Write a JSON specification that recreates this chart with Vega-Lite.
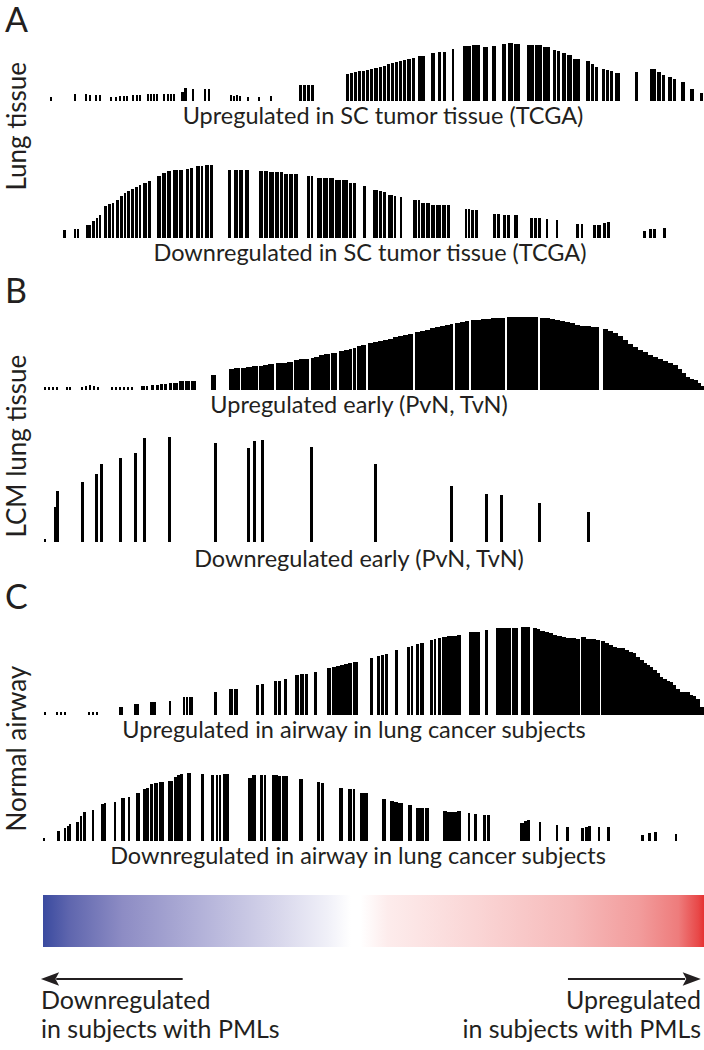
{
"$schema": "https://vega.github.io/schema/vega-lite/v6.json",
"padding": {"left": 4, "top": 5, "right": 0, "bottom": 0},
"background": "white",
"config": {
 "view": {"stroke": null},
 "font": "Lato",
 "title": {"font": "Lato", "fontWeight": "normal", "color": "#231f20"},
 "concat": {"spacing": 10}
},
"datasets": {
"A1": [
{"a":49,"b":51,"h":4},{"a":73,"b":75,"h":7},{"a":84,"b":86,"h":7},{"a":88,"b":90,"h":6},{"a":94,"b":96,"h":6},{"a":98,"b":100,"h":6},{"a":109,"b":111,"h":4},{"a":114,"b":116,"h":4},{"a":118,"b":120,"h":5},{"a":122,"b":124,"h":5},{"a":125,"b":127,"h":5},{"a":131,"b":133,"h":6},{"a":135,"b":137,"h":6},{"a":138,"b":140,"h":6},{"a":146,"b":148,"h":7},{"a":149,"b":151,"h":7},{"a":152,"b":154,"h":7},{"a":155,"b":157,"h":7},{"a":162,"b":164,"h":7},{"a":166,"b":168,"h":7},{"a":169,"b":171,"h":7},{"a":172,"b":174,"h":7},{"a":180,"b":183,"h":9},{"a":183,"b":186,"h":13},{"a":191,"b":193,"h":12},{"a":203,"b":205,"h":12},{"a":207,"b":209,"h":12},{"a":229,"b":231,"h":6},{"a":232,"b":234,"h":5},{"a":235,"b":237,"h":6},{"a":238,"b":240,"h":5},{"a":246,"b":248,"h":4},{"a":257,"b":259,"h":4},{"a":269,"b":271,"h":5},{"a":298,"b":301,"h":16},{"a":302,"b":305,"h":16},{"a":306,"b":309,"h":16},{"a":310,"b":313,"h":16},
{"a":345,"b":348,"h":27},{"a":349,"b":352,"h":28},{"a":353,"b":356,"h":29},{"a":357,"b":360,"h":30},{"a":361,"b":364,"h":30},{"a":365,"b":368,"h":31},{"a":369,"b":372,"h":32},{"a":373,"b":377,"h":33},{"a":378,"b":381,"h":34},{"a":382,"b":385,"h":35},{"a":386,"b":389,"h":37},{"a":390,"b":393,"h":38},{"a":394,"b":397,"h":39},{"a":398,"b":401,"h":40},{"a":402,"b":405,"h":41},{"a":406,"b":410,"h":42},{"a":411,"b":414,"h":43},{"a":417,"b":424,"h":45},{"a":430,"b":434,"h":48},{"a":437,"b":440,"h":49},{"a":442,"b":445,"h":49},{"a":451,"b":453,"h":52},{"a":462,"b":470,"h":55},{"a":471,"b":479,"h":56},{"a":482,"b":487,"h":54},{"a":491,"b":495,"h":55},{"a":501,"b":505,"h":57},{"a":507,"b":512,"h":58},{"a":513,"b":519,"h":57},{"a":526,"b":533,"h":56},{"a":534,"b":541,"h":56},{"a":542,"b":549,"h":54},{"a":552,"b":555,"h":51},{"a":556,"b":559,"h":50},{"a":561,"b":565,"h":48},{"a":566,"b":571,"h":46},{"a":572,"b":579,"h":42},{"a":585,"b":589,"h":40},{"a":590,"b":593,"h":37},{"a":594,"b":597,"h":34},{"a":601,"b":604,"h":32},{"a":605,"b":608,"h":31},{"a":609,"b":612,"h":30},{"a":614,"b":619,"h":28},{"a":634,"b":637,"h":29},{"a":649,"b":655,"h":32},{"a":656,"b":660,"h":29},{"a":661,"b":664,"h":26},{"a":667,"b":671,"h":24},{"a":672,"b":675,"h":22},{"a":680,"b":684,"h":19},{"a":689,"b":693,"h":12},{"a":699,"b":702,"h":8}
],
"A2": [
{"a":62,"b":65,"h":8},{"a":73,"b":75,"h":9},{"a":76,"b":78,"h":9},{"a":85,"b":90,"h":13},{"a":91,"b":94,"h":17},{"a":95,"b":97,"h":20},{"a":98,"b":100,"h":23},{"a":103,"b":106,"h":32},{"a":107,"b":110,"h":34},{"a":111,"b":113,"h":35},{"a":115,"b":118,"h":38},{"a":119,"b":122,"h":42},{"a":123,"b":125,"h":45},{"a":126,"b":129,"h":47},{"a":130,"b":133,"h":49},{"a":134,"b":137,"h":51},{"a":138,"b":140,"h":53},{"a":142,"b":146,"h":55},{"a":147,"b":150,"h":57},{"a":156,"b":160,"h":62},{"a":161,"b":165,"h":65},{"a":166,"b":170,"h":67},{"a":172,"b":177,"h":68},{"a":178,"b":182,"h":68},{"a":185,"b":188,"h":69},{"a":189,"b":192,"h":70},{"a":195,"b":199,"h":72},{"a":200,"b":202,"h":72},{"a":204,"b":208,"h":73},{"a":209,"b":212,"h":73},{"a":227,"b":230,"h":68},{"a":233,"b":237,"h":68},{"a":238,"b":242,"h":68},{"a":244,"b":248,"h":68},{"a":258,"b":262,"h":67},{"a":263,"b":267,"h":67},{"a":268,"b":273,"h":66},{"a":274,"b":278,"h":66},{"a":279,"b":282,"h":66},{"a":283,"b":287,"h":64},{"a":288,"b":292,"h":64},{"a":293,"b":297,"h":64},{"a":306,"b":309,"h":62},{"a":310,"b":312,"h":62},{"a":316,"b":321,"h":60},{"a":322,"b":327,"h":60},{"a":328,"b":333,"h":60},{"a":334,"b":340,"h":58},{"a":341,"b":347,"h":58},{"a":348,"b":351,"h":55},{"a":352,"b":355,"h":55},{"a":362,"b":365,"h":52},{"a":372,"b":377,"h":48},{"a":378,"b":381,"h":47},{"a":382,"b":385,"h":46},{"a":387,"b":392,"h":43},{"a":393,"b":395,"h":42},{"a":399,"b":401,"h":41},{"a":412,"b":416,"h":38},{"a":417,"b":419,"h":38},{"a":420,"b":424,"h":35},{"a":425,"b":429,"h":35},{"a":430,"b":434,"h":33},{"a":435,"b":440,"h":33},{"a":441,"b":445,"h":33},{"a":446,"b":449,"h":33},{"a":464,"b":466,"h":29},{"a":467,"b":469,"h":29},{"a":470,"b":473,"h":28},{"a":474,"b":477,"h":28},{"a":492,"b":495,"h":24},{"a":496,"b":499,"h":24},{"a":502,"b":505,"h":23},{"a":506,"b":509,"h":23},{"a":513,"b":517,"h":23},{"a":529,"b":532,"h":20},{"a":533,"b":536,"h":20},{"a":537,"b":540,"h":20},{"a":545,"b":547,"h":19},{"a":555,"b":557,"h":18},{"a":575,"b":578,"h":14},{"a":580,"b":582,"h":14},{"a":592,"b":595,"h":13},{"a":596,"b":600,"h":13},{"a":602,"b":605,"h":15},{"a":606,"b":609,"h":16},{"a":642,"b":645,"h":7},{"a":648,"b":651,"h":9},{"a":652,"b":655,"h":9},{"a":662,"b":665,"h":10}
],
"B1": [
{"a":43,"b":45,"h":3},{"a":47,"b":49,"h":3},{"a":51,"b":53,"h":3},{"a":55,"b":57,"h":3},{"a":65,"b":67,"h":3},{"a":68,"b":70,"h":3},{"a":80,"b":82,"h":3},{"a":84,"b":86,"h":4},{"a":88,"b":90,"h":5},{"a":92,"b":94,"h":4},{"a":96,"b":98,"h":3},{"a":110,"b":112,"h":3},{"a":114,"b":116,"h":3},{"a":118,"b":120,"h":3},{"a":122,"b":124,"h":3},{"a":126,"b":128,"h":3},{"a":130,"b":132,"h":3},{"a":140,"b":144,"h":4},{"a":145,"b":147,"h":4},{"a":150,"b":153,"h":5},{"a":155,"b":158,"h":5},{"a":159,"b":162,"h":6},{"a":163,"b":166,"h":6},{"a":168,"b":171,"h":7},{"a":172,"b":177,"h":7},{"a":178,"b":183,"h":9},{"a":184,"b":189,"h":9},{"a":190,"b":195,"h":9},{"a":210,"b":215,"h":15},
{"a":228,"b":233,"h":21},{"a":233,"b":239,"h":22},{"a":240,"b":245,"h":22},{"a":245,"b":251,"h":23},{"a":251,"b":257,"h":24},{"a":258,"b":262,"h":24},{"a":262,"b":267,"h":25},{"a":267,"b":273,"h":26},{"a":275,"b":280,"h":27},{"a":280,"b":286,"h":27},{"a":286,"b":292,"h":28},{"a":293,"b":298,"h":30},{"a":298,"b":303,"h":31},{"a":303,"b":308,"h":31},{"a":310,"b":313,"h":32},{"a":313,"b":318,"h":33},{"a":318,"b":323,"h":35},{"a":323,"b":329,"h":36},{"a":330,"b":336,"h":37},{"a":338,"b":343,"h":39},{"a":343,"b":348,"h":40},{"a":348,"b":351,"h":41},{"a":352,"b":355,"h":42},{"a":356,"b":360,"h":44},{"a":360,"b":365,"h":45},{"a":367,"b":372,"h":47},{"a":372,"b":377,"h":48},{"a":377,"b":382,"h":49},{"a":382,"b":387,"h":50},{"a":387,"b":392,"h":51},{"a":392,"b":397,"h":53},{"a":397,"b":402,"h":54},{"a":402,"b":407,"h":55},{"a":407,"b":412,"h":56},{"a":414,"b":419,"h":58},{"a":419,"b":424,"h":59},{"a":424,"b":429,"h":60},{"a":429,"b":434,"h":62},{"a":434,"b":439,"h":63},{"a":439,"b":444,"h":64},{"a":444,"b":449,"h":65},{"a":449,"b":452,"h":66},{"a":454,"b":459,"h":67},{"a":459,"b":464,"h":68},{"a":464,"b":468,"h":69},{"a":470,"b":475,"h":70},{"a":475,"b":480,"h":70},{"a":480,"b":485,"h":71},{"a":485,"b":490,"h":71},{"a":490,"b":495,"h":72},{"a":495,"b":500,"h":72},{"a":500,"b":504,"h":72},{"a":506,"b":511,"h":73},{"a":511,"b":516,"h":73},{"a":516,"b":521,"h":73},{"a":521,"b":526,"h":73},{"a":526,"b":531,"h":73},{"a":531,"b":537,"h":73},{"a":539,"b":544,"h":72},{"a":544,"b":549,"h":72},{"a":549,"b":554,"h":71},{"a":554,"b":559,"h":70},{"a":559,"b":564,"h":69},{"a":564,"b":569,"h":68},{"a":569,"b":574,"h":67},{"a":574,"b":579,"h":65},{"a":579,"b":584,"h":64},{"a":584,"b":590,"h":64},{"a":590,"b":598,"h":63},{"a":602,"b":607,"h":61},{"a":607,"b":612,"h":59},{"a":612,"b":617,"h":57},{"a":617,"b":622,"h":54},{"a":622,"b":627,"h":50},{"a":627,"b":632,"h":46},{"a":632,"b":637,"h":43},{"a":637,"b":642,"h":40},{"a":642,"b":647,"h":38},{"a":647,"b":652,"h":35},{"a":652,"b":657,"h":33},{"a":657,"b":662,"h":31},{"a":662,"b":667,"h":29},{"a":667,"b":672,"h":27},{"a":672,"b":677,"h":25},{"a":677,"b":681,"h":21},{"a":681,"b":685,"h":17},{"a":685,"b":689,"h":13},{"a":689,"b":693,"h":11},{"a":693,"b":697,"h":10},{"a":697,"b":700,"h":7},{"a":700,"b":703,"h":4}
],
"B2": [
{"a":43,"b":45,"h":3},{"a":53,"b":55,"h":35},{"a":55,"b":58,"h":51},{"a":80,"b":83,"h":60},{"a":94,"b":97,"h":68},{"a":99,"b":102,"h":78},{"a":118,"b":121,"h":84},{"a":133,"b":136,"h":89},{"a":142,"b":145,"h":104},{"a":167,"b":170,"h":105},{"a":213,"b":216,"h":99},{"a":246,"b":249,"h":94},{"a":252,"b":255,"h":101},{"a":260,"b":263,"h":102},{"a":309,"b":312,"h":95},{"a":373,"b":376,"h":78},{"a":449,"b":452,"h":56},{"a":484,"b":487,"h":48},{"a":499,"b":502,"h":47},{"a":537,"b":540,"h":39},{"a":586,"b":589,"h":30}
],
"C1": [
{"a":43,"b":45,"h":3},{"a":55,"b":57,"h":3},{"a":59,"b":61,"h":3},{"a":63,"b":65,"h":3},{"a":87,"b":89,"h":3},{"a":91,"b":93,"h":3},{"a":95,"b":97,"h":3},{"a":118,"b":122,"h":8},{"a":133,"b":138,"h":11},{"a":149,"b":155,"h":13},{"a":168,"b":170,"h":14},{"a":182,"b":184,"h":18},{"a":185,"b":187,"h":18},{"a":188,"b":190,"h":18},{"a":190,"b":192,"h":18},{"a":213,"b":216,"h":23},{"a":228,"b":232,"h":26},{"a":233,"b":237,"h":26},{"a":255,"b":258,"h":30},{"a":260,"b":263,"h":31},{"a":273,"b":276,"h":34},{"a":277,"b":280,"h":34},{"a":283,"b":286,"h":36},{"a":294,"b":298,"h":40},{"a":299,"b":303,"h":41},{"a":304,"b":307,"h":41},{"a":313,"b":316,"h":43},{"a":326,"b":330,"h":47},{"a":331,"b":335,"h":48},{"a":335,"b":339,"h":49},{"a":339,"b":343,"h":50},{"a":343,"b":347,"h":51},{"a":347,"b":351,"h":52},{"a":352,"b":357,"h":53},{"a":369,"b":372,"h":57},{"a":376,"b":379,"h":59},{"a":380,"b":383,"h":60},{"a":384,"b":387,"h":61},{"a":394,"b":397,"h":65},{"a":406,"b":409,"h":68},{"a":410,"b":412,"h":69},{"a":415,"b":418,"h":71},{"a":419,"b":423,"h":72},{"a":429,"b":432,"h":75},{"a":433,"b":435,"h":76},{"a":437,"b":440,"h":77},{"a":441,"b":446,"h":78},{"a":446,"b":451,"h":79},{"a":451,"b":456,"h":79},{"a":456,"b":460,"h":80},{"a":468,"b":474,"h":83},{"a":474,"b":479,"h":83},{"a":484,"b":487,"h":85},{"a":495,"b":500,"h":87},{"a":500,"b":505,"h":87},{"a":505,"b":510,"h":87},{"a":511,"b":517,"h":87},{"a":520,"b":525,"h":88},{"a":525,"b":529,"h":88},{"a":532,"b":536,"h":87},{"a":536,"b":539,"h":86},{"a":539,"b":544,"h":84},{"a":544,"b":548,"h":83},{"a":548,"b":552,"h":82},{"a":552,"b":556,"h":80},{"a":556,"b":561,"h":79},{"a":561,"b":565,"h":78},{"a":565,"b":570,"h":77},{"a":570,"b":575,"h":77},{"a":575,"b":579,"h":76},{"a":580,"b":585,"h":78},{"a":585,"b":590,"h":76},{"a":590,"b":595,"h":76},{"a":595,"b":599,"h":75},{"a":600,"b":604,"h":74},{"a":604,"b":608,"h":72},{"a":608,"b":612,"h":70},{"a":612,"b":616,"h":68},{"a":616,"b":620,"h":67},{"a":620,"b":624,"h":67},{"a":624,"b":628,"h":65},{"a":628,"b":632,"h":63},{"a":632,"b":635,"h":62},{"a":635,"b":639,"h":58},{"a":639,"b":643,"h":55},{"a":643,"b":646,"h":52},{"a":646,"b":649,"h":50},{"a":649,"b":652,"h":48},{"a":652,"b":656,"h":45},{"a":656,"b":659,"h":42},{"a":659,"b":662,"h":38},{"a":662,"b":666,"h":36},{"a":666,"b":669,"h":34},{"a":669,"b":672,"h":33},{"a":672,"b":675,"h":30},{"a":675,"b":679,"h":26},{"a":679,"b":684,"h":23},{"a":684,"b":689,"h":23},{"a":689,"b":692,"h":20},{"a":692,"b":695,"h":19},{"a":695,"b":699,"h":16},{"a":699,"b":703,"h":8}
],
"C2": [
{"a":42,"b":44,"h":3},{"a":56,"b":59,"h":10},{"a":63,"b":65,"h":13},{"a":66,"b":68,"h":15},{"a":68,"b":70,"h":17},{"a":75,"b":78,"h":19},{"a":79,"b":81,"h":25},{"a":82,"b":85,"h":29},{"a":91,"b":93,"h":31},{"a":100,"b":103,"h":37},{"a":103,"b":105,"h":38},{"a":113,"b":115,"h":39},{"a":120,"b":122,"h":43},{"a":122,"b":124,"h":43},{"a":127,"b":129,"h":44},{"a":135,"b":139,"h":48},{"a":142,"b":145,"h":52},{"a":145,"b":148,"h":53},{"a":149,"b":152,"h":57},{"a":153,"b":157,"h":58},{"a":158,"b":163,"h":59},{"a":167,"b":172,"h":60},{"a":173,"b":176,"h":64},{"a":176,"b":179,"h":66},{"a":179,"b":182,"h":67},{"a":186,"b":190,"h":68},{"a":200,"b":203,"h":67},{"a":210,"b":213,"h":66},{"a":215,"b":217,"h":66},{"a":218,"b":220,"h":66},{"a":222,"b":225,"h":67},{"a":225,"b":228,"h":67},{"a":247,"b":251,"h":63},{"a":251,"b":255,"h":66},{"a":259,"b":262,"h":66},{"a":263,"b":265,"h":66},{"a":271,"b":274,"h":66},{"a":274,"b":277,"h":66},{"a":277,"b":280,"h":65},{"a":281,"b":284,"h":65},{"a":284,"b":287,"h":65},{"a":298,"b":302,"h":62},{"a":316,"b":319,"h":59},{"a":320,"b":323,"h":58},{"a":338,"b":342,"h":53},{"a":347,"b":351,"h":52},{"a":352,"b":354,"h":52},{"a":359,"b":363,"h":48},{"a":363,"b":367,"h":48},{"a":381,"b":385,"h":42},{"a":389,"b":393,"h":40},{"a":393,"b":397,"h":39},{"a":397,"b":402,"h":38},{"a":407,"b":411,"h":36},{"a":415,"b":419,"h":33},{"a":419,"b":423,"h":33},{"a":424,"b":428,"h":33},{"a":442,"b":446,"h":30},{"a":446,"b":451,"h":29},{"a":451,"b":456,"h":29},{"a":456,"b":460,"h":30},{"a":467,"b":469,"h":28},{"a":473,"b":476,"h":27},{"a":482,"b":485,"h":26},{"a":486,"b":489,"h":26},{"a":519,"b":523,"h":18},{"a":523,"b":526,"h":20},{"a":526,"b":529,"h":21},{"a":538,"b":540,"h":19},{"a":555,"b":557,"h":16},{"a":565,"b":568,"h":14},{"a":580,"b":583,"h":13},{"a":584,"b":587,"h":14},{"a":587,"b":590,"h":15},{"a":597,"b":599,"h":14},{"a":606,"b":609,"h":14},{"a":640,"b":643,"h":6},{"a":647,"b":650,"h":8},{"a":653,"b":656,"h":9},{"a":674,"b":676,"h":7}
],
"legend": [
{"side": "down", "label": "Downregulated\nin subjects with PMLs"}
]
},
"vconcat": [
{
 "title": {"text": "A", "anchor": "start", "frame": "bounds", "fontSize": 34, "offset": 4},
 "vconcat": [{
  "title": {"text": "Lung tissue", "orient": "left", "fontSize": 26, "offset": 12, "dx": 75},
  "spacing": 36,
  "vconcat": [
   {"width": 662, "height": 58, "data": {"name": "A1"},
    "title": {"text": "Upregulated in SC tumor tissue (TCGA)", "orient": "bottom", "fontSize": 23.5, "offset": 4, "dx": 9},
    "mark": {"type": "rect", "color": "#000000"},
    "encoding": {
     "x": {"field": "a", "type": "quantitative", "scale": {"domain": [42, 704], "nice": false, "zero": false}, "axis": null},
     "x2": {"field": "b"},
     "y": {"field": "h", "type": "quantitative", "scale": {"domain": [0, 58], "nice": false}, "axis": null},
     "y2": {"datum": 0}}},
   {"width": 662, "height": 73, "data": {"name": "A2"},
    "title": {"text": "Downregulated in SC tumor tissue (TCGA)", "orient": "bottom", "fontSize": 23.5, "offset": 4, "dx": -4},
    "mark": {"type": "rect", "color": "#000000"},
    "encoding": {
     "x": {"field": "a", "type": "quantitative", "scale": {"domain": [42, 704], "nice": false, "zero": false}, "axis": null},
     "x2": {"field": "b"},
     "y": {"field": "h", "type": "quantitative", "scale": {"domain": [0, 73], "nice": false}, "axis": null},
     "y2": {"datum": 0}}}
  ]
 }]
},
{
 "title": {"text": "B", "anchor": "start", "frame": "bounds", "fontSize": 34, "offset": 7},
 "vconcat": [{
  "title": {"text": "LCM lung tissue", "orient": "left", "fontSize": 26, "offset": 12, "dx": 34},
  "spacing": 18,
  "vconcat": [
   {"width": 662, "height": 73, "data": {"name": "B1"},
    "title": {"text": "Upregulated early (PvN, TvN)", "orient": "bottom", "fontSize": 23.5, "offset": 4, "dx": -15},
    "mark": {"type": "rect", "color": "#000000"},
    "encoding": {
     "x": {"field": "a", "type": "quantitative", "scale": {"domain": [42, 704], "nice": false, "zero": false}, "axis": null},
     "x2": {"field": "b"},
     "y": {"field": "h", "type": "quantitative", "scale": {"domain": [0, 73], "nice": false}, "axis": null},
     "y2": {"datum": 0}}},
   {"width": 662, "height": 106, "data": {"name": "B2"},
    "title": {"text": "Downregulated early (PvN, TvN)", "orient": "bottom", "fontSize": 23.5, "offset": 6, "dx": -15},
    "mark": {"type": "rect", "color": "#000000"},
    "encoding": {
     "x": {"field": "a", "type": "quantitative", "scale": {"domain": [42, 704], "nice": false, "zero": false}, "axis": null},
     "x2": {"field": "b"},
     "y": {"field": "h", "type": "quantitative", "scale": {"domain": [0, 106], "nice": false}, "axis": null},
     "y2": {"datum": 0}}}
  ]
 }]
},
{
 "title": {"text": "C", "anchor": "start", "frame": "bounds", "fontSize": 34, "offset": 10},
 "vconcat": [{
  "title": {"text": "Normal airway", "orient": "left", "fontSize": 26, "offset": 12, "dx": 37},
  "spacing": 30,
  "vconcat": [
   {"width": 662, "height": 89, "data": {"name": "C1"},
    "title": {"text": "Upregulated in airway in lung cancer subjects", "orient": "bottom", "fontSize": 23.5, "offset": 4, "dx": -20},
    "mark": {"type": "rect", "color": "#000000"},
    "encoding": {
     "x": {"field": "a", "type": "quantitative", "scale": {"domain": [42, 704], "nice": false, "zero": false}, "axis": null},
     "x2": {"field": "b"},
     "y": {"field": "h", "type": "quantitative", "scale": {"domain": [0, 89], "nice": false}, "axis": null},
     "y2": {"datum": 0}}},
   {"width": 662, "height": 68, "data": {"name": "C2"},
    "title": {"text": "Downregulated in airway in lung cancer subjects", "orient": "bottom", "fontSize": 23.5, "offset": 4, "dx": -16},
    "mark": {"type": "rect", "color": "#000000"},
    "encoding": {
     "x": {"field": "a", "type": "quantitative", "scale": {"domain": [42, 704], "nice": false, "zero": false}, "axis": null},
     "x2": {"field": "b"},
     "y": {"field": "h", "type": "quantitative", "scale": {"domain": [0, 68], "nice": false}, "axis": null},
     "y2": {"datum": 0}}}
  ]
 }]
},
{
 "width": 662, "height": 162,
 "data": {"name": "legend"},
 "layer": [
  {"mark": {"type": "rect", "fill": {"gradient": "linear", "x1": 0, "x2": 1, "y1": 0, "y2": 0, "stops": [
     {"offset": 0, "color": "#3a4a9f"}, {"offset": 0.04, "color": "#5f66ae"}, {"offset": 0.12, "color": "#8d8cc4"}, {"offset": 0.24, "color": "#b3b2d9"}, {"offset": 0.36, "color": "#d9d8ec"}, {"offset": 0.43, "color": "#f0f0f8"}, {"offset": 0.465, "color": "#ffffff"}, {"offset": 0.48, "color": "#ffffff"}, {"offset": 0.52, "color": "#fdecec"}, {"offset": 0.65, "color": "#fad6d6"}, {"offset": 0.8, "color": "#f6baba"}, {"offset": 0.9, "color": "#f29c9c"}, {"offset": 0.96, "color": "#ee7c7c"}, {"offset": 0.99, "color": "#e84848"}, {"offset": 1, "color": "#e62e2e"}]}},
   "encoding": {
    "x": {"datum": 0, "type": "quantitative", "scale": {"domain": [0, 1], "nice": false, "zero": false}, "axis": null},
    "x2": {"datum": 1},
    "y": {"datum": 16, "type": "quantitative", "scale": {"domain": [162, 0], "nice": false, "zero": false}, "axis": null},
    "y2": {"datum": 68}}},
  {"mark": {"type": "rule", "color": "#231f20", "strokeWidth": 2},
   "encoding": {"x": {"datum": 0.211, "type": "quantitative"}, "x2": {"datum": 0.02}, "y": {"datum": 100, "type": "quantitative"}}},
  {"mark": {"type": "rule", "color": "#231f20", "strokeWidth": 2},
   "encoding": {"x": {"datum": 0.793, "type": "quantitative"}, "x2": {"datum": 0.97}, "y": {"datum": 100, "type": "quantitative"}}},
  {"mark": {"type": "point", "filled": true, "color": "#231f20", "opacity": 1, "size": 330, "shape": "M -1 0 L 1 -0.75 L 0.6 0 L 1 0.75 Z"},
   "encoding": {"x": {"datum": 0.0106, "type": "quantitative"}, "y": {"datum": 100, "type": "quantitative"}}},
  {"mark": {"type": "point", "filled": true, "color": "#231f20", "opacity": 1, "size": 330, "shape": "M 1 0 L -1 -0.75 L -0.6 0 L -1 0.75 Z"},
   "encoding": {"x": {"datum": 0.98, "type": "quantitative"}, "y": {"datum": 100, "type": "quantitative"}}},
  {"mark": {"type": "text", "align": "left", "baseline": "top", "fontSize": 25, "lineHeight": 29, "lineBreak": "\n", "color": "#231f20", "font": "Lato", "text": "Downregulated\nin subjects with PMLs"},
   "encoding": {"x": {"datum": -0.003, "type": "quantitative"}, "y": {"datum": 110, "type": "quantitative"}}},
  {"mark": {"type": "text", "align": "right", "baseline": "top", "fontSize": 25, "lineHeight": 29, "lineBreak": "\n", "color": "#231f20", "font": "Lato", "text": "Upregulated\nin subjects with PMLs"},
   "encoding": {"x": {"datum": 0.994, "type": "quantitative"}, "y": {"datum": 110, "type": "quantitative"}}}
 ]
}
]
}
